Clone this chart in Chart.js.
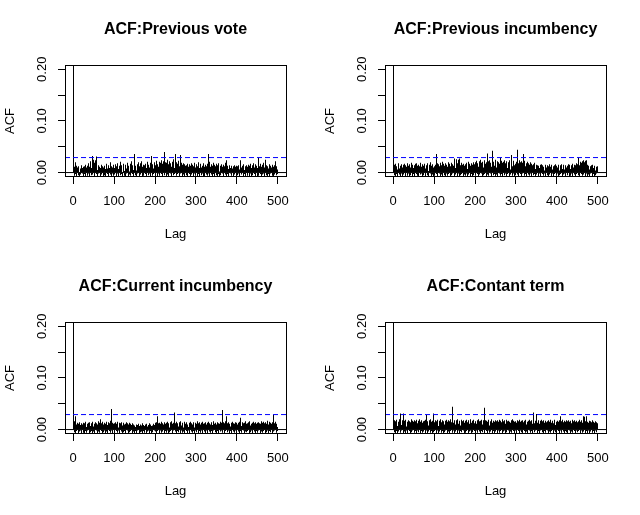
<!DOCTYPE html>
<html>
<head>
<meta charset="utf-8">
<script src="https://cdn.jsdelivr.net/npm/chart.js@4.4.1/dist/chart.umd.min.js"></script>
<style>
  html, body { margin: 0; padding: 0; background: #fff; }
  #wrap { position: relative; width: 640px; height: 515px; background: #fff; }
  canvas { position: absolute; }
</style>
</head>
<body>
<div id="wrap">
  <canvas id="p1" width="320" height="258" style="left:0;top:0"></canvas>
  <canvas id="p2" width="320" height="258" style="left:320px;top:0"></canvas>
  <canvas id="p3" width="320" height="258" style="left:0;top:257px"></canvas>
  <canvas id="p4" width="320" height="258" style="left:320px;top:257px"></canvas>
</div>
<script>
const panelTitles = ["ACF:Previous vote", "ACF:Previous incumbency", "ACF:Current incumbency", "ACF:Contant term"];
const xTicks = [0, 100, 200, 300, 400, 500];
const yTicks = [0, 0.05, 0.10, 0.15, 0.20];
const yTickLabels = ["0.00", "", "0.10", "", "0.20"];
const ciLevel = 0.029;
const maxLag = 500;

// ACF per lag 0..500, in thousandths (clipped values estimated)
const prevVoteAcf = [1000,
  4,-6,11,9,20,-3,7,13,-9,2,10,-5,6,12,1,-11,8,3,-4,14,5,-2,9,-7,11,
  6,-3,12,8,-10,15,2,10,-6,4,13,-2,18,7,-8,11,3,22,-5,9,32,14,-4,25,10,
  19,-7,8,24,12,-3,16,31,5,-9,14,7,-2,11,3,-12,9,15,-4,6,12,1,-8,10,4,
  -5,13,7,2,-10,11,17,-3,8,4,-7,14,1,9,-4,20,6,-9,12,3,-2,10,15,-6,5,
  9,-4,16,2,-8,12,6,18,-2,7,-11,13,4,10,-5,21,8,-3,14,1,-9,11,5,17,-6,
  3,12,-7,15,8,-2,10,19,-10,6,13,-4,2,17,9,-6,11,22,-3,7,14,-8,5,24,36,
  8,-5,13,4,-9,16,10,-2,6,20,-7,12,3,18,-4,9,22,-1,11,-10,15,5,-6,14,7,
  -3,17,9,2,-8,13,21,-5,7,15,-2,10,-11,19,6,12,32,4,-6,16,8,-3,20,11,-9,
  14,-4,18,23,6,-9,16,11,-2,21,8,-6,19,13,-3,24,10,-8,17,5,22,40,-5,15,20,
  7,-10,19,12,25,-4,9,16,-7,22,3,14,-2,18,11,-9,21,6,15,-5,26,9,-3,13,36,
  10,-6,20,14,-3,17,8,23,-8,12,34,5,-2,19,9,-11,15,4,18,-4,11,-7,16,2,13,
  -5,14,7,-9,17,3,11,-3,16,6,-7,13,2,18,-4,9,15,-10,5,12,-2,19,8,-6,10,
  4,16,-8,12,7,-3,20,9,-11,14,1,17,-5,10,13,-2,6,18,-7,11,3,-9,15,8,-4,
  12,-6,17,9,-2,36,14,-9,21,5,11,-4,16,7,-10,13,19,-3,8,15,-7,4,12,-5,17,
  6,-8,14,10,-3,18,2,-11,13,8,-5,16,4,11,-2,9,-7,15,3,12,-4,19,7,-9,24,
  10,-3,13,7,-8,12,5,14,-2,9,11,-6,13,8,3,-10,12,14,6,-4,11,9,-7,13,4,
  -5,12,8,-2,14,6,-9,11,15,24,-4,10,3,13,-7,9,16,-3,5,12,-11,7,14,2,-6,
  11,-4,15,6,-8,13,3,17,-2,9,-10,14,7,-5,12,18,-3,10,4,-7,16,8,-1,13,-9,
  9,14,29,-6,12,5,-3,17,8,-10,11,15,-4,7,19,-2,10,-8,13,25,6,-5,14,3,-7,
  12,-3,8,16,-9,5,13,-2,10,4,-6,15,7,-11,11,2,-4,14,9,22,-5,8,12,-3,6
];

const prevIncAcf = [1000,
  11,-5,15,3,-8,17,9,-3,12,6,-10,14,2,18,-4,8,13,-7,5,16,-2,10,-9,15,7,
  -4,12,17,6,-9,14,3,11,-6,18,8,-2,13,-11,16,5,10,-5,19,4,-7,12,15,-3,9,
  14,-8,6,17,11,-3,9,18,-6,13,2,-10,15,7,12,-4,19,8,-2,11,-7,16,4,13,-5,
  10,17,-3,8,-9,14,6,12,-5,18,3,-7,11,15,-2,9,20,-8,13,5,-4,16,10,-11,12,
  7,-6,15,11,36,-3,13,18,-9,8,16,-2,12,5,-7,19,10,-4,14,21,-10,9,17,3,-5,
  13,-8,18,6,-2,15,11,-6,20,8,-3,14,17,-9,12,4,19,-5,10,16,-2,13,7,-10,18,
  27,9,-4,16,26,-7,12,18,-2,25,11,-8,27,14,-5,19,8,-3,15,10,-9,17,6,-4,13,
  -6,16,10,-2,19,7,-9,14,21,-4,11,17,-7,13,5,-3,18,9,-10,15,20,-5,12,16,-2,
  20,-6,14,23,9,-3,18,11,-9,22,16,-4,25,8,-2,19,13,-7,21,10,-5,24,15,-3,17,
  12,-8,20,16,37,-4,22,9,-6,18,24,-2,14,19,-9,11,23,42,-5,16,21,-3,13,25,-7,
  18,10,-4,22,15,-8,20,12,-2,17,29,-6,14,23,-3,19,9,-10,21,16,-5,24,11,-2,18,
  -7,15,22,9,-3,20,13,-9,18,24,6,-4,16,21,34,-6,12,19,-2,23,14,-8,17,10,-5,
  21,13,-4,44,18,-7,16,24,10,-3,20,14,-9,22,17,-2,19,11,36,-6,15,23,-3,12,18,
  -8,16,21,9,-4,18,12,-6,15,20,-2,11,17,-9,14,8,-5,16,12,-3,19,7,-10,13,15,
  -4,11,14,6,-8,13,9,-2,15,5,-10,12,16,-3,8,14,-6,11,4,-2,13,15,-7,10,6,
  -5,14,9,-9,12,16,3,-4,11,8,-7,15,13,-2,6,12,-10,14,9,-3,16,5,-6,11,13,
  -2,10,15,-8,12,4,-5,14,9,-3,16,11,-9,7,13,-4,15,6,-2,12,14,-7,10,8,-5,
  13,-3,16,9,-10,11,15,-6,7,14,-2,12,17,-8,10,5,-4,15,12,-9,14,18,-3,11,16,
  12,29,-5,18,14,-8,21,10,-3,19,16,-6,22,13,24,-4,17,20,-9,23,11,-2,24,15,-7,
  10,-4,13,6,-9,12,8,-2,14,5,-7,11,15,-3,9,12,-10,13,4,-5,11,8,-2,12,6
];

const currIncAcf = [1000,
  12,-5,8,16,26,-8,10,3,-3,13,7,-10,11,2,-4,14,6,-2,9,12,-7,5,10,-6,13,
  4,-9,12,8,-3,15,5,-6,11,9,-2,13,3,-10,10,14,-5,7,12,-3,8,-8,15,6,-4,
  11,3,-7,14,9,-2,12,5,-11,10,16,-4,7,13,-6,20,8,-3,12,4,-9,15,10,-5,9,
  -2,13,6,-8,11,15,-4,9,3,-10,14,7,-3,12,17,-6,10,40,-2,13,8,-7,11,5,-4,
  12,-9,9,14,-3,7,11,-6,15,4,-2,10,13,-8,6,12,-4,14,9,-11,8,3,-5,13,10,
  -3,11,6,-7,14,9,-2,12,4,-9,10,13,-5,7,11,-3,9,5,-8,12,6,-4,10,3,-10,
  8,-3,5,10,-7,4,9,-2,11,6,-9,7,3,-5,10,8,-4,6,12,-8,5,9,-3,7,-6,
  10,4,-9,8,11,-4,6,-2,9,5,-7,12,3,-3,10,7,-10,8,4,-5,11,6,-2,9,13,
  -4,10,14,-7,9,26,-3,12,6,-9,13,8,-2,11,15,-6,7,12,-4,10,5,-8,14,9,-3,
  11,-6,13,7,-2,15,9,-10,12,4,-5,14,10,-3,8,16,-7,11,5,-2,13,9,33,-4,12,
  7,-8,15,10,-3,12,6,-5,14,9,-11,11,16,-2,8,13,-6,10,4,-4,12,15,-9,7,11,
  -3,14,8,-7,10,5,-2,13,11,-9,7,15,-4,12,6,-6,10,14,-3,9,4,-10,13,8,-2,
  11,-5,16,7,-8,12,4,-3,14,10,-6,9,13,-2,6,15,-9,11,8,-4,12,5,-7,14,10,
  -2,13,7,-10,11,15,-4,8,12,-6,10,5,-3,14,9,-8,12,16,-2,7,11,-5,13,6,-9,
  10,14,-3,8,12,-7,11,5,-4,15,9,-2,13,17,38,-6,10,14,-9,12,7,-3,16,11,26,
  -5,12,8,-2,14,10,-8,11,6,-3,13,9,-10,15,7,-4,12,5,-6,11,14,-2,9,13,-7,
  10,6,-4,13,9,-8,15,23,-3,11,7,-6,14,10,-2,12,5,-9,13,16,-4,8,11,-5,12,
  9,-3,14,7,-10,12,16,-5,8,11,-2,13,6,-7,10,15,-4,9,12,-8,14,5,-3,11,13,
  -6,10,14,-2,8,12,-9,11,16,-4,7,13,-6,10,15,-3,12,8,-10,14,9,-5,11,17,-2,
  12,-7,10,15,-3,9,13,-5,11,7,-9,14,10,28,-4,12,8,-2,15,6,-6,11,9,-3,5
];

const constAcf = [1000,
  14,-5,18,9,-8,16,12,-3,19,7,-10,15,11,-4,17,20,31,-6,13,9,-2,18,14,-7,31,
  12,-4,17,10,-9,19,6,-2,15,13,-7,18,9,-3,16,11,-10,14,20,-5,12,17,-2,10,15,
  -6,18,13,-3,16,9,-8,19,12,-2,14,17,-5,11,20,-9,15,8,-3,18,13,-6,16,10,-4,
  17,11,-7,15,19,-2,28,13,-9,16,8,-4,18,14,-6,12,20,-3,15,10,-8,17,31,-5,14,
  9,-3,18,13,-8,16,11,-2,19,7,-10,15,17,-4,12,20,-6,14,9,-3,18,12,-7,16,10,
  -5,17,13,-2,19,8,-9,15,18,-4,11,16,-7,20,12,-3,14,9,-6,17,44,-2,13,18,-8,
  15,10,-4,18,13,-7,16,20,-2,11,14,-9,17,8,-3,19,12,-5,15,16,-2,10,18,-8,13,
  17,-6,12,19,-3,14,9,-10,18,15,-4,11,16,-2,20,13,-7,10,17,-5,14,19,-3,12,16,
  -8,15,11,-2,18,14,-6,20,9,-4,16,13,-9,17,12,-3,19,10,-5,15,18,-2,42,-7,14,
  18,-3,13,17,-9,15,11,-2,19,8,-6,16,14,-4,12,20,-8,13,17,-3,10,15,-7,18,12,
  -4,16,11,-9,18,13,-2,15,19,-6,10,17,-3,14,12,-8,20,9,-4,16,13,-2,18,11,-7,
  14,19,-5,12,16,-2,17,10,-9,15,13,-4,18,11,-6,20,14,-3,12,17,-8,15,9,-2,16,
  13,-7,18,11,-3,16,14,-9,19,10,-2,15,17,-5,12,18,-8,14,11,-3,17,13,-6,19,10,
  -4,15,12,-8,17,14,-2,19,9,-6,16,13,-3,18,11,-9,15,20,33,-5,12,17,-2,14,16,
  30,-7,13,18,-3,15,11,-9,17,14,-2,19,10,-5,16,12,-8,18,13,-3,15,17,-6,11,14,
  -2,16,12,-9,18,10,-4,15,19,-6,13,11,-3,17,14,-8,12,16,-2,19,9,-5,15,13,-7,
  14,17,-3,11,15,-8,18,26,-2,13,16,-6,10,19,-4,14,12,-9,17,11,-3,15,18,-5,12,
  16,-7,13,18,-2,11,15,-9,17,12,-4,19,14,-6,10,16,-3,13,18,-8,15,11,-2,17,14,
  -5,12,16,-3,19,14,-8,15,11,-2,18,13,-6,17,26,-4,20,25,-9,14,16,-3,26,12,-7,
  15,-2,13,17,-8,11,16,-4,14,10,-6,18,12,-3,15,9,-9,13,16,-2,11,14,-5,12,8
];

const xMin = -20, xMax = 520;
const yMin = -0.0086, yMax = 0.2082;
const lags = Array.from({ length: maxLag + 1 }, (_, i) => i);

Chart.defaults.font.family = "'Liberation Sans', Arial, sans-serif";
Chart.defaults.font.size = 13;
Chart.defaults.color = "#000";

// snap each 1px bar onto a whole pixel column, like R's type="h" lines
const barDraw = Chart.BarElement.prototype.draw;
Chart.BarElement.prototype.draw = function (ctx) {
  const x = this.x;
  this.x = Math.floor(x) + 0.5;
  barDraw.call(this, ctx);
  this.x = x;
};

const boxPlugin = {
  id: "box",
  afterDraw(chart) {
    const { ctx, chartArea: a } = chart;
    ctx.save();
    ctx.strokeStyle = "#000";
    ctx.lineWidth = 1;
    ctx.strokeRect(a.left + 0.5, a.top + 0.5, a.right - a.left, a.bottom - a.top - 1);
    ctx.restore();
  },
};

function makePanel(id, title, acf) {
  const points = lags.map((lag, i) => ({ x: lag, y: acf[i] / 1000 }));
  return new Chart(document.getElementById(id), {
    type: "bar",
    data: {
      datasets: [
        {
          type: "line",
          data: [{ x: xMin, y: 0 }, { x: xMax, y: 0 }],
          borderColor: "#000",
          borderWidth: 1,
          pointRadius: 0,
          order: 0,
        },
        {
          type: "line",
          data: [{ x: xMin, y: ciLevel }, { x: xMax, y: ciLevel }],
          borderColor: "#0000ff",
          borderWidth: 1,
          borderDash: [5, 3],
          pointRadius: 0,
          order: 0,
        },
        {
          type: "bar",
          data: points,
          backgroundColor: "#000",
          borderWidth: 0,
          barThickness: 1,
          inflateAmount: 0,
          order: 1,
        },
      ],
    },
    options: {
      responsive: false,
      animation: false,
      devicePixelRatio: 1,
      layout: { padding: { left: 0, right: 34, top: 0, bottom: 0 } },
      plugins: {
        legend: { display: false },
        tooltip: { enabled: false },
        title: {
          display: true,
          text: title,
          fullSize: false,
          font: { size: 16, weight: "bold" },
          color: "#000",
          padding: { top: 20, bottom: 25.8 },
        },
      },
      scales: {
        x: {
          type: "linear",
          min: xMin,
          max: xMax,
          offset: false,
          afterBuildTicks: (s) => { s.ticks = xTicks.map((v) => ({ value: v })); },
          afterFit: (s) => { s.height = 81; },
          grid: { offset: false, drawOnChartArea: false, drawTicks: true, tickLength: 7, color: "#000", tickColor: "#000" },
          border: { display: false },
          ticks: { autoSkip: false, maxRotation: 0, padding: 10, color: "#000" },
          title: { display: true, text: "Lag", color: "#000", padding: { top: 0, bottom: 16 } },
        },
        y: {
          min: yMin,
          max: yMax,
          afterBuildTicks: (s) => { s.ticks = yTicks.map((v) => ({ value: v })); },
          afterFit: (s) => { s.width = 65; },
          grid: { drawOnChartArea: false, drawTicks: true, tickLength: 7, color: "#000", tickColor: "#000" },
          border: { display: false },
          ticks: {
            autoSkip: false,
            minRotation: 90,
            maxRotation: 90,
            crossAlign: "center",
            padding: 3,
            color: "#000",
            callback: (v, i) => yTickLabels[i],
          },
          title: { display: true, text: "ACF", color: "#000", padding: { top: 3, bottom: 0 } },
        },
      },
    },
    plugins: [boxPlugin],
  });
}

makePanel("p1", panelTitles[0], prevVoteAcf);
makePanel("p2", panelTitles[1], prevIncAcf);
makePanel("p3", panelTitles[2], currIncAcf);
makePanel("p4", panelTitles[3], constAcf);
</script>
</body>
</html>
